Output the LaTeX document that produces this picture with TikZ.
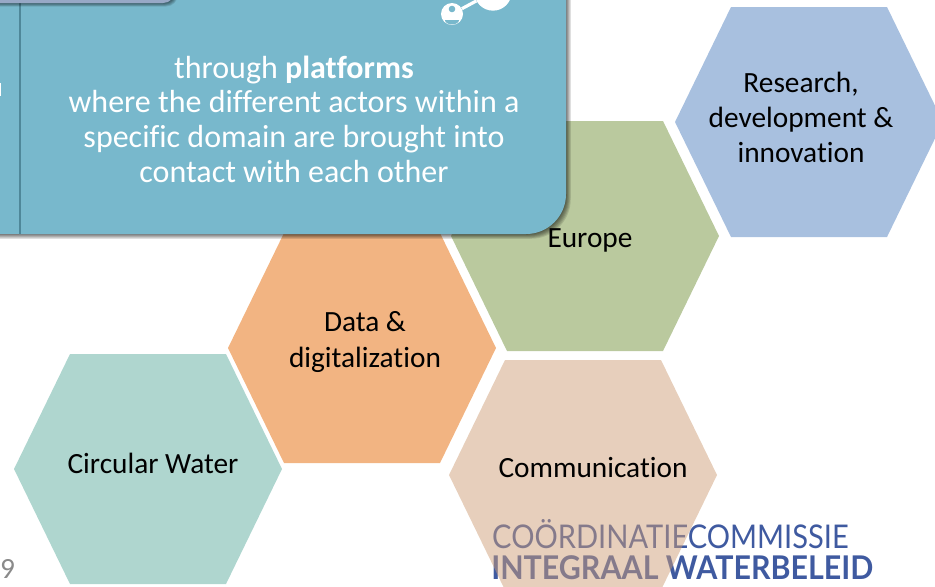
\documentclass[tikz,border=0pt]{standalone}
\usepackage{fontspec}
\setmainfont[Ligatures=NoCommon]{Carlito}
\newfontfamily\logofont{Lato}

\definecolor{researchblue}{HTML}{A8C0DF}
\definecolor{europegreen}{HTML}{BAC99E}
\definecolor{dataorange}{HTML}{F2B482}
\definecolor{circularteal}{HTML}{AFD6CF}
\definecolor{commpeach}{RGB}{206,157,118}
\definecolor{panelblue}{HTML}{78B8CC}
\definecolor{paneledge}{HTML}{4F8799}
\definecolor{toppanel}{HTML}{97A8C6}
\definecolor{logoblue}{HTML}{3F5AA0}
\definecolor{pagegray}{HTML}{8A8A8A}

\tikzset{
  hexlabel/.style={align=center, font=\fontsize{22}{26.3}\selectfont, text=black},
  panellabel/.style={align=center, text=white, font=\fontsize{24}{26}\selectfont},
  softshadow/.style={black, fill opacity=.11},
  logoline/.style={anchor=base west, text=logoblue, inner sep=0pt, transform shape}
}
\newcommand{\hexcell}[4]{%
  \coordinate (#1) at (#2,#3);
  \fill[#4, shift={(#2,#3)}] (-134,0) -- (-78,-115) -- (78,-115) -- (134,0) -- (78,115) -- (-78,115) -- cycle;
}

\begin{document}
\begin{tikzpicture}[x=0.75pt, y=-0.75pt]
\useasboundingbox (0,0) rectangle (935,586);
\clip (0,0) rectangle (935,586);

% ---- logo, under the peach cell ----
\node[logoline, xscale=.89, font=\logofont\fontsize{24.5}{26}\selectfont] (logotop) at (492,548) {COÖRDINATIECOMMISSIE};
\node[logoline, xscale=.93, font=\logofont\bfseries\fontsize{24.5}{26}\selectfont] (logobottom) at (491,579) {INTEGRAAL WATERBELEID};

% ---- hexagons ----
\hexcell{research}{809}{122}{researchblue}
\hexcell{europe}{585}{236}{europegreen}
\hexcell{data}{362}{348}{dataorange}
\hexcell{circular}{148}{469}{circularteal}
\hexcell{communication}{583}{475}{commpeach, fill opacity=.49}

\node[hexlabel] (researchtext) at (801,117) {Research,\\development \&\\innovation};
\node[hexlabel] (europetext) at (590,240) {Europe};
\node[hexlabel] (datatext) at (365,342) {Data \&\\digitalization};
\node[hexlabel] (circulartext) at (153,463) {Circular Water};
\node[hexlabel] (communicationtext) at (593,468) {Communication};

% ---- page number ----
\node[text=pagegray, font=\fontsize{22}{26}\selectfont, inner sep=0pt] (pagenumber) at (7.5,569) {9};

% ---- panels ----
\foreach \s in {1,...,6}{
  \fill[softshadow] (-60,-60) -- (566+.8*\s,-60) -- (566+.8*\s,194) [rounded corners=30pt] -- (566+.8*\s,234+.8*\s) [sharp corners] -- (-60,234+.8*\s) -- cycle;
}
\fill[panelblue] (-60,-60) rectangle (40,234);
\fill[white] (-2,83) rectangle (1,96);
\fill[panelblue] (19,-60) -- (566,-60) [rounded corners=30pt] -- (566,234) [sharp corners] -- (19,234) -- cycle;
\coordinate (edgetop) at (20,0);
\coordinate (edgebottom) at (20,234);
\draw[paneledge, line width=1.2pt] (edgetop) -- (edgebottom);

\foreach \s in {1,...,5}{
  \fill[softshadow, rounded corners=9pt] (-60,-60) rectangle (175+.6*\s,3+.7*\s);
}
\fill[toppanel, rounded corners=9pt] (-60,-60) rectangle (175,3);

% ---- icon ----
\node[circle, fill=white, minimum size=16.5pt, inner sep=0pt] (iconsmall) at (452,14) {};
\node[circle, fill=white, minimum size=28pt, inner sep=0pt] (iconbig) at (493,-8) {};
\draw[white, line width=2.4pt] (iconsmall) -- (iconbig);
\fill[panelblue] (452,9) circle (3.3);
\fill[panelblue] (445,20) arc (180:0:7 and 4.5) -- cycle;
\fill[panelblue] (482,-2) rectangle (504,0);

\node[panellabel] (paneltext) at (294,119)
  {through \textbf{platforms}\\where the different actors within a\\specific domain are brought into\\contact with each other};

\end{tikzpicture}
\end{document}
